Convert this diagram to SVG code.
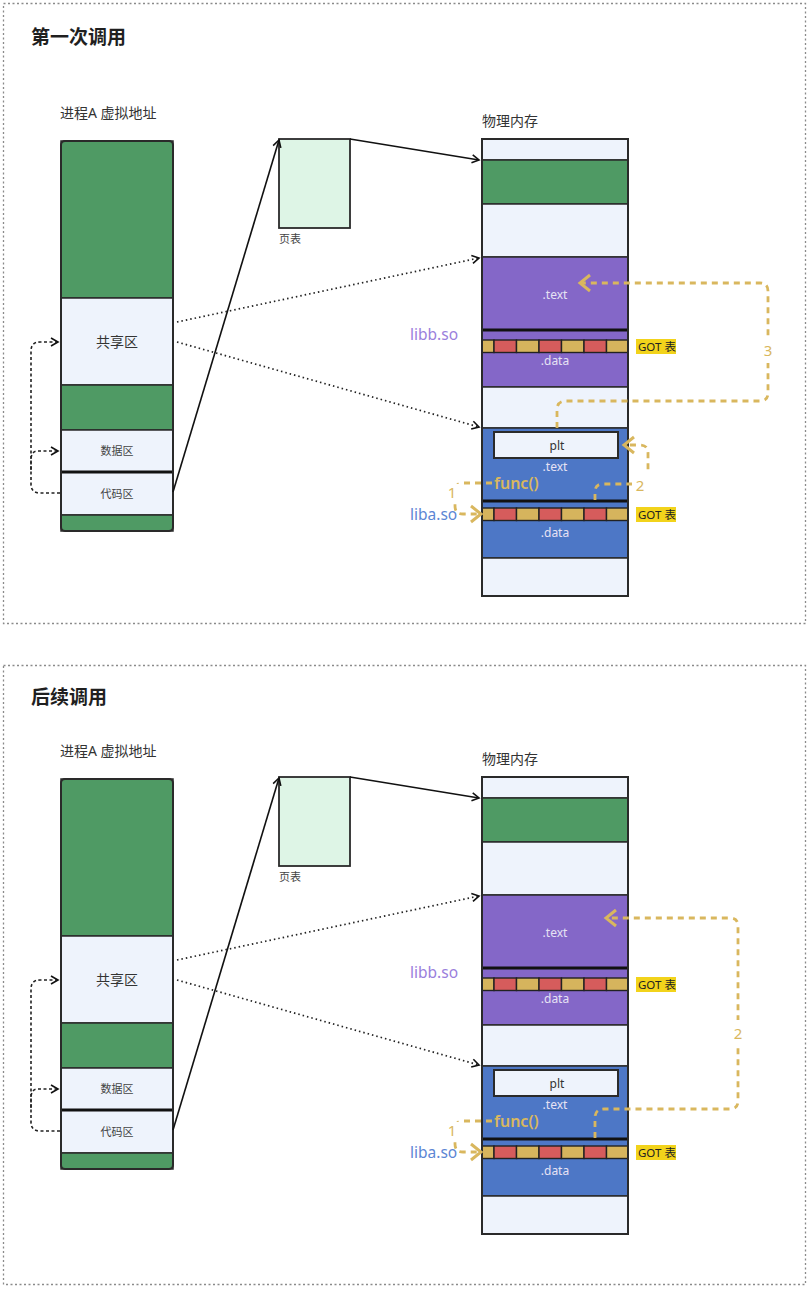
<svg xmlns="http://www.w3.org/2000/svg" xmlns:xlink="http://www.w3.org/1999/xlink" width="810" height="1291" viewBox="0 0 810 1291">
<style>
text{font-family:"Noto Sans","Noto Sans CJK SC",sans-serif;}
.frame{fill:none;stroke:#8a8a8a;stroke-width:1.3;stroke-dasharray:2 2.5;}
.title{font-size:19px;font-weight:700;fill:#1f1f1f;}
.cap{font-size:14px;fill:#333;}
.small{font-size:11px;fill:#444;}
.green{fill:#4f9a64;stroke:#2a2a2a;stroke-width:1.5;}
.light{fill:#eef3fc;stroke:#2a2a2a;stroke-width:1.5;}
.purple{fill:#8467c8;stroke:#2a2a2a;stroke-width:1.5;}
.blue{fill:#4d77c6;stroke:#2a2a2a;stroke-width:1.5;}
.sep{stroke:#111;stroke-width:3;}
.outline{fill:none;stroke:#2a2a2a;stroke-width:2;}
.pt{fill:#def5e6;stroke:#2a2a2a;stroke-width:1.8;}
.seg{font-size:12px;fill:#e6e2f4;text-anchor:middle;}
.mid{text-anchor:middle;}
.gy{fill:#d6b45d;stroke:#222;stroke-width:1.4;}
.gr{fill:#d65c5c;stroke:#222;stroke-width:1.4;}
.gotlbl{font-size:11.5px;fill:#222;}
.solid{fill:none;stroke:#111;stroke-width:1.6;marker-end:url(#ab);}
.dot{fill:none;stroke:#222;stroke-width:1.7;stroke-dasharray:1.5 3;marker-end:url(#ab);}
.ldash{fill:none;stroke:#222;stroke-width:1.6;stroke-dasharray:3 2.5;}
.ydash{fill:none;stroke:#d9b75e;stroke-width:2.8;stroke-dasharray:6 5;}
.ylbl{font-size:15px;fill:#d9b75e;text-anchor:middle;}
.func{font-size:16px;fill:#d9b75e;font-weight:600;}
</style>
<defs>
<marker id="ab" markerWidth="10" markerHeight="10" refX="8" refY="5" orient="auto" markerUnits="userSpaceOnUse">
<path d="M1,1 L8,5 L1,9" fill="none" stroke="#111" stroke-width="1.6"/>
</marker>
<marker id="ay" markerWidth="16" markerHeight="20" refX="12" refY="10" orient="auto" markerUnits="userSpaceOnUse">
<path d="M2,2 L12,10 L2,18" fill="none" stroke="#d9b75e" stroke-width="3"/>
</marker>
<g id="gotrow">
<rect class="gy" x="482" y="0" width="12" height="12.5"/>
<rect class="gr" x="494" y="0" width="22.5" height="12.5"/>
<rect class="gy" x="516.5" y="0" width="22.5" height="12.5"/>
<rect class="gr" x="539" y="0" width="22.5" height="12.5"/>
<rect class="gy" x="561.5" y="0" width="22.5" height="12.5"/>
<rect class="gr" x="584" y="0" width="22.5" height="12.5"/>
<rect class="gy" x="606.5" y="0" width="21.5" height="12.5"/>
</g>
</defs>
<rect width="810" height="1291" fill="#ffffff"/>

<!-- ===== Section 1 ===== -->
<g id="frame1">
<rect class="frame" x="3.5" y="3.5" width="802" height="620"/>
<text class="title" x="31" y="44">第一次调用</text>
</g>
<g id="section1">
<g id="s1-virtual">
<text class="cap" x="60" y="118">进程A 虚拟地址</text>
<rect class="green" x="61" y="141" width="112" height="157"/>
<rect class="light" x="61" y="298" width="112" height="87"/>
<text class="mid" x="117" y="347" font-size="14" fill="#333">共享区</text>
<rect class="green" x="61" y="385" width="112" height="45"/>
<rect class="light" x="61" y="430" width="112" height="42"/>
<text class="small mid" x="117" y="455">数据区</text>
<rect class="light" x="61" y="472" width="112" height="43"/>
<text class="small mid" x="117" y="498">代码区</text>
<rect class="green" x="61" y="515" width="112" height="16"/>
<line class="sep" x1="61" y1="472" x2="173" y2="472"/>
<rect class="outline" x="61" y="141" width="112" height="390" rx="4"/>
</g>
<g id="s1-pagetable">
<rect class="pt" x="279" y="139" width="71" height="89"/>
<text class="small" x="279" y="243">页表</text>
</g>
<g id="s1-physical">
<text class="cap" x="482" y="126">物理内存</text>
<rect class="light" x="482" y="139" width="146" height="21"/>
<rect class="green" x="482" y="160" width="146" height="44"/>
<rect class="light" x="482" y="204" width="146" height="53"/>
<rect class="purple" x="482" y="257" width="146" height="73"/>
<text class="seg" x="555" y="299">.text</text>
<rect class="purple" x="482" y="330" width="146" height="57"/>
<line class="sep" x1="482" y1="330" x2="628" y2="330"/>
<use href="#gotrow" xlink:href="#gotrow" y="340"/>
<text class="seg" x="555" y="365">.data</text>
<rect class="light" x="482" y="387" width="146" height="41"/>
<rect class="blue" x="482" y="428" width="146" height="73"/>
<rect class="light" x="494" y="432" width="124" height="26" style="stroke-width:2"/>
<text class="mid" x="557" y="450" font-size="12" fill="#333">plt</text>
<text class="seg" x="555" y="471">.text</text>
<rect class="blue" x="482" y="501" width="146" height="57"/>
<line class="sep" x1="482" y1="501" x2="628" y2="501"/>
<use href="#gotrow" xlink:href="#gotrow" y="508"/>
<text class="seg" x="555" y="537">.data</text>
<rect class="light" x="482" y="558" width="146" height="38"/>
<rect class="outline" x="482" y="139" width="146" height="457"/>
</g>
<g id="s1-labels">
<text x="410" y="340" font-size="15.5" fill="#9a80dc">libb.so</text>
<rect x="636" y="339" width="40" height="15" fill="#f2d31b"/>
<text class="gotlbl" x="638" y="351">GOT 表</text>
<text x="410" y="520" font-size="15.5" fill="#5c86d4">liba.so</text>
<rect x="636" y="507" width="40" height="15" fill="#f2d31b"/>
<text class="gotlbl" x="638" y="519">GOT 表</text>
</g>
<g id="s1-connectors">
<path class="solid" d="M173,492 L279,140"/>
<path class="solid" d="M350,139 L479,160"/>
<path class="dot" d="M177,322 L479,258"/>
<path class="dot" d="M177,342 L479,427"/>
<path class="ldash" d="M60,493 H40 Q31,493 31,484 V460 Q31,451 38,451"/>
<path class="ldash" d="M38,451 H58" marker-end="url(#ab)"/>
<path class="ldash" d="M31,470 V351 Q31,342 40,342 H58" marker-end="url(#ab)"/>
<path class="ydash" d="M557,428 V410 Q557,401 566,401 H760 Q768,401 768,393 V291 Q768,283 760,283 H580" marker-end="url(#ay)"/>
<rect x="760" y="337" width="16" height="26" fill="#fff"/>
<text class="ylbl" x="768" y="356">3</text>
<path class="ydash" d="M595,500 V492 Q595,484 603,484 H640 Q648,484 648,476 V453 Q648,445 640,445 H624" marker-end="url(#ay)"/>
<rect x="632" y="470" width="18" height="24" fill="#fff"/>
<text class="ylbl" x="640" y="491">2</text>
<path class="ydash" d="M492,483 H463 Q455,483 455,491 V506 Q455,514 463,514 H481" marker-end="url(#ay)"/>
<rect x="445" y="484" width="15" height="20" fill="#fff"/>
<text class="ylbl" x="452" y="498">1</text>
<text class="func" x="494" y="489">func()</text>
</g>
</g>

<!-- ===== Section 2 ===== -->
<g id="frame2">
<rect class="frame" x="3.5" y="665.5" width="802" height="619"/>
<text class="title" x="31" y="704">后续调用</text>
</g>
<g id="section2" transform="translate(0,638)">
<g id="s2-virtual">
<text class="cap" x="60" y="118">进程A 虚拟地址</text>
<rect class="green" x="61" y="141" width="112" height="157"/>
<rect class="light" x="61" y="298" width="112" height="87"/>
<text class="mid" x="117" y="347" font-size="14" fill="#333">共享区</text>
<rect class="green" x="61" y="385" width="112" height="45"/>
<rect class="light" x="61" y="430" width="112" height="42"/>
<text class="small mid" x="117" y="455">数据区</text>
<rect class="light" x="61" y="472" width="112" height="43"/>
<text class="small mid" x="117" y="498">代码区</text>
<rect class="green" x="61" y="515" width="112" height="16"/>
<line class="sep" x1="61" y1="472" x2="173" y2="472"/>
<rect class="outline" x="61" y="141" width="112" height="390" rx="4"/>
</g>
<g id="s2-pagetable">
<rect class="pt" x="279" y="139" width="71" height="89"/>
<text class="small" x="279" y="243">页表</text>
</g>
<g id="s2-physical">
<text class="cap" x="482" y="126">物理内存</text>
<rect class="light" x="482" y="139" width="146" height="21"/>
<rect class="green" x="482" y="160" width="146" height="44"/>
<rect class="light" x="482" y="204" width="146" height="53"/>
<rect class="purple" x="482" y="257" width="146" height="73"/>
<text class="seg" x="555" y="299">.text</text>
<rect class="purple" x="482" y="330" width="146" height="57"/>
<line class="sep" x1="482" y1="330" x2="628" y2="330"/>
<use href="#gotrow" xlink:href="#gotrow" y="340"/>
<text class="seg" x="555" y="365">.data</text>
<rect class="light" x="482" y="387" width="146" height="41"/>
<rect class="blue" x="482" y="428" width="146" height="73"/>
<rect class="light" x="494" y="432" width="124" height="26" style="stroke-width:2"/>
<text class="mid" x="557" y="450" font-size="12" fill="#333">plt</text>
<text class="seg" x="555" y="471">.text</text>
<rect class="blue" x="482" y="501" width="146" height="57"/>
<line class="sep" x1="482" y1="501" x2="628" y2="501"/>
<use href="#gotrow" xlink:href="#gotrow" y="508"/>
<text class="seg" x="555" y="537">.data</text>
<rect class="light" x="482" y="558" width="146" height="38"/>
<rect class="outline" x="482" y="139" width="146" height="457"/>
</g>
<g id="s2-labels">
<text x="410" y="340" font-size="15.5" fill="#9a80dc">libb.so</text>
<rect x="636" y="339" width="40" height="15" fill="#f2d31b"/>
<text class="gotlbl" x="638" y="351">GOT 表</text>
<text x="410" y="520" font-size="15.5" fill="#5c86d4">liba.so</text>
<rect x="636" y="507" width="40" height="15" fill="#f2d31b"/>
<text class="gotlbl" x="638" y="519">GOT 表</text>
</g>
<g id="s2-connectors">
<path class="solid" d="M173,492 L279,140"/>
<path class="solid" d="M350,139 L479,160"/>
<path class="dot" d="M177,322 L479,258"/>
<path class="dot" d="M177,342 L479,427"/>
<path class="ldash" d="M60,493 H40 Q31,493 31,484 V460 Q31,451 38,451"/>
<path class="ldash" d="M38,451 H58" marker-end="url(#ab)"/>
<path class="ldash" d="M31,470 V351 Q31,342 40,342 H58" marker-end="url(#ab)"/>
<path class="ydash" d="M595,500 V480 Q595,471 604,471 H730 Q738,471 738,463 V288 Q738,280 730,280 H606" marker-end="url(#ay)"/>
<rect x="730" y="382" width="16" height="26" fill="#fff"/>
<text class="ylbl" x="738" y="401">2</text>
<path class="ydash" d="M492,483 H463 Q455,483 455,491 V506 Q455,514 463,514 H481" marker-end="url(#ay)"/>
<rect x="445" y="484" width="15" height="20" fill="#fff"/>
<text class="ylbl" x="452" y="498">1</text>
<text class="func" x="494" y="489">func()</text>
</g>
</g>
</svg>
